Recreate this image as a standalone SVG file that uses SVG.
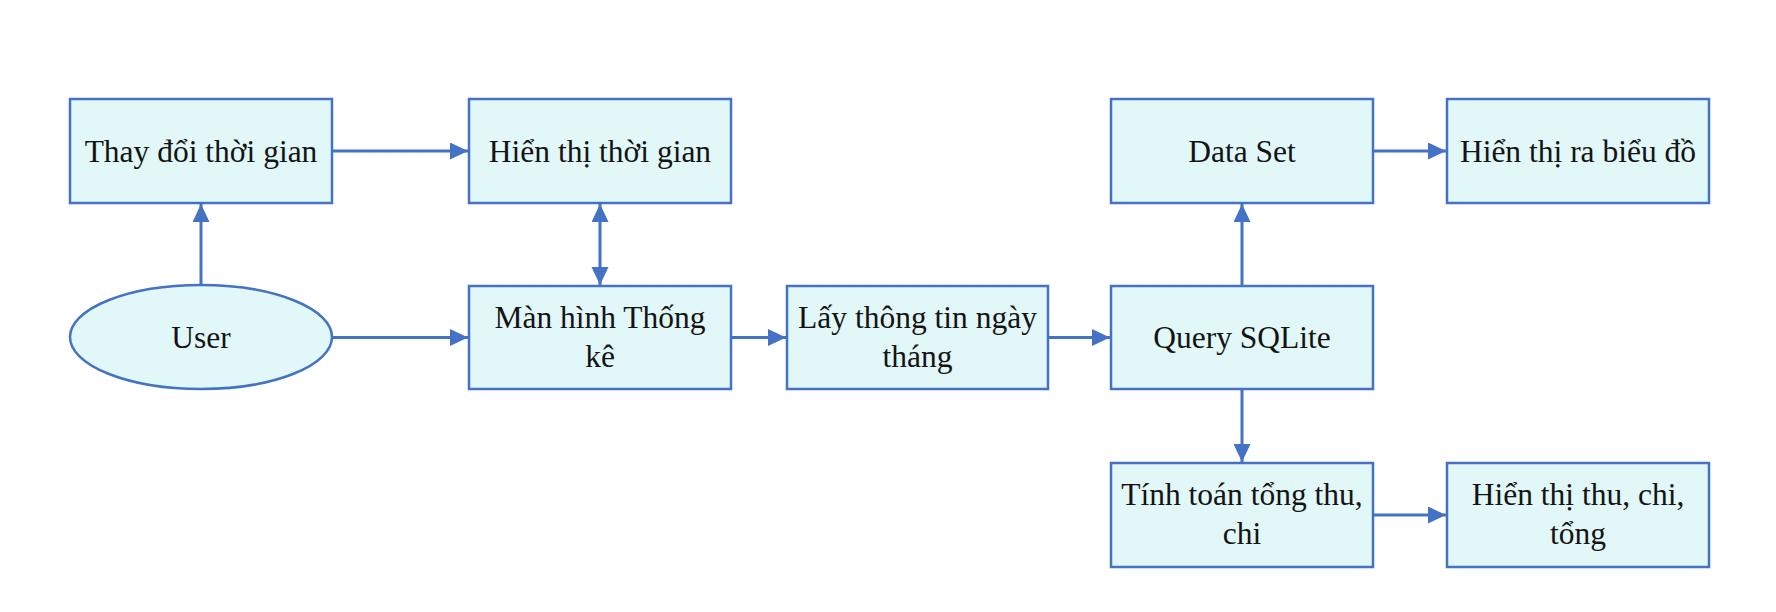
<svg xmlns="http://www.w3.org/2000/svg" width="1776" height="612" viewBox="0 0 1776 612">
<defs>
<style>
.box{fill:#E1F7F8;stroke:#4472C4;stroke-width:2.5}
.lbl{font-family:"Liberation Serif","Times New Roman",serif;font-size:31.5px;fill:#141414;text-anchor:middle}
.con{stroke:#4472C4;stroke-width:3;fill:none}
</style>
<marker id="ah" markerUnits="userSpaceOnUse" markerWidth="19" markerHeight="18" refX="18" refY="8.5" orient="auto-start-reverse">
<path d="M0,0 L18,8.5 L0,17 z" fill="#4472C4"/>
</marker>
</defs>
<rect width="1776" height="612" fill="#ffffff"/>
<g id="connectors">
<line class="con" x1="201" y1="285" x2="201" y2="204" marker-end="url(#ah)"/>
<line class="con" x1="332" y1="151" x2="468" y2="151" marker-end="url(#ah)"/>
<line class="con" x1="332" y1="337.5" x2="468" y2="337.5" marker-end="url(#ah)"/>
<line class="con" x1="600" y1="204" x2="600" y2="285" marker-start="url(#ah)" marker-end="url(#ah)"/>
<line class="con" x1="731" y1="337.5" x2="786" y2="337.5" marker-end="url(#ah)"/>
<line class="con" x1="1048" y1="337.5" x2="1110" y2="337.5" marker-end="url(#ah)"/>
<line class="con" x1="1242" y1="286" x2="1242" y2="204" marker-end="url(#ah)"/>
<line class="con" x1="1242" y1="389" x2="1242" y2="462" marker-end="url(#ah)"/>
<line class="con" x1="1373" y1="151" x2="1446" y2="151" marker-end="url(#ah)"/>
<line class="con" x1="1373" y1="515" x2="1446" y2="515" marker-end="url(#ah)"/>
</g>
<g id="user">
<ellipse class="box" cx="201" cy="337" rx="131" ry="52"/>
<text class="lbl" x="201" y="348">User</text>
</g>
<g id="thay-doi-thoi-gian">
<rect class="box" x="70" y="99" width="262" height="104"/>
<text class="lbl" x="201" y="162">Thay đổi thời gian</text>
</g>
<g id="hien-thi-thoi-gian">
<rect class="box" x="469" y="99" width="262" height="104"/>
<text class="lbl" x="600" y="162">Hiển thị thời gian</text>
</g>
<g id="man-hinh-thong-ke">
<rect class="box" x="469" y="286" width="262" height="103"/>
<text class="lbl" x="600" y="328">Màn hình Thống</text>
<text class="lbl" x="600" y="367">kê</text>
</g>
<g id="lay-thong-tin">
<rect class="box" x="787" y="286" width="261" height="103"/>
<text class="lbl" x="917.5" y="328">Lấy thông tin ngày</text>
<text class="lbl" x="917.5" y="367">tháng</text>
</g>
<g id="query-sqlite">
<rect class="box" x="1111" y="286" width="262" height="103"/>
<text class="lbl" x="1242" y="348">Query SQLite</text>
</g>
<g id="data-set">
<rect class="box" x="1111" y="99" width="262" height="104"/>
<text class="lbl" x="1242" y="162">Data Set</text>
</g>
<g id="hien-thi-bieu-do">
<rect class="box" x="1447" y="99" width="262" height="104"/>
<text class="lbl" x="1578" y="162">Hiển thị ra biểu đồ</text>
</g>
<g id="tinh-toan">
<rect class="box" x="1111" y="463" width="262" height="104"/>
<text class="lbl" x="1242" y="505">Tính toán tổng thu,</text>
<text class="lbl" x="1242" y="544">chi</text>
</g>
<g id="hien-thi-thu-chi">
<rect class="box" x="1447" y="463" width="262" height="104"/>
<text class="lbl" x="1578" y="505">Hiển thị thu, chi,</text>
<text class="lbl" x="1578" y="544">tổng</text>
</g>
</svg>
